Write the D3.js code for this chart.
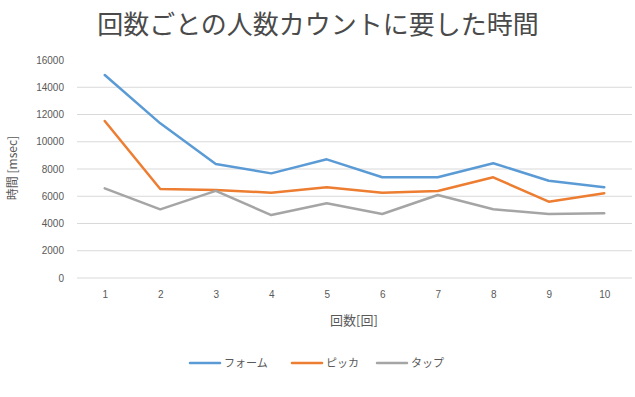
<!DOCTYPE html>
<html>
<head>
<meta charset="utf-8">
<script src="https://cdn.jsdelivr.net/npm/d3@7"></script>
<style>
  body { margin: 0; background: #fff; }
  text { font-family: "Noto Sans CJK JP", "Noto Sans", sans-serif; }
</style>
</head>
<body>
<div id="vis"></div>
<script>
// 回数ごとの人数カウントに要した時間 - line chart

var width = 635;
var height = 397;

var rounds = [1, 2, 3, 4, 5, 6, 7, 8, 9, 10];
var seriesNames = ["フォーム", "ピッカ", "タップ"];
var formValues = [14900, 11350, 8370, 7680, 8710, 7390, 7390, 8420, 7140, 6660];
var pickerValues = [11520, 6530, 6460, 6260, 6660, 6260, 6390, 7390, 5600, 6220];
var tapValues = [6580, 5040, 6390, 4620, 5480, 4700, 6090, 5040, 4700, 4750];
var yTicks = [0, 2000, 4000, 6000, 8000, 10000, 12000, 14000, 16000];
var colors = ["#5b9bd5", "#ed7d31", "#a5a5a5"];

var allSeries = [formValues, pickerValues, tapValues];

var canvas = d3.select("#vis")
        .append("svg")
        .attr("width", width)
        .attr("height", height)
        .style("background-color", "#fff");

var x = d3.scalePoint()
        .domain(rounds)
        .range([77, 632])
        .padding(0.5);

var y = d3.scaleLinear()
        .domain([0, 16000])
        .range([278, 60]);

// title
canvas.append("text")
        .attr("x", 318)
        .attr("y", 34)
        .attr("text-anchor", "middle")
        .attr("fill", "#4a4a4a")
        .style("font-size", "26px")
        .text("回数ごとの人数カウントに要した時間");

// gridlines
canvas.append("g")
    .selectAll("line")
    .data(yTicks.filter(d => d < 16000))
    .join("line")
        .attr("x1", 77)
        .attr("x2", 632)
        .attr("y1", d => y(d))
        .attr("y2", d => y(d))
        .attr("stroke", "#d9d9d9")
        .attr("stroke-width", 1);

// y axis labels
const yAxis = d3.axisLeft(y)
        .tickValues(yTicks)
        .tickFormat(d3.format("d"))
        .tickSize(0)
        .tickPadding(0);

var yg = canvas.append("g")
        .attr("transform", "translate(64,0)")
        .call(yAxis);
yg.select(".domain").remove();
yg.selectAll("text")
        .attr("fill", "#595959")
        .style("font-size", "10px")
        .style("font-family", "'Liberation Sans', sans-serif");

// x axis labels
const xAxis = d3.axisBottom(x)
        .tickSize(0)
        .tickPadding(0);

var xg = canvas.append("g")
        .attr("transform", "translate(0,291)")
        .call(xAxis);
xg.select(".domain").remove();
xg.selectAll("text")
        .attr("fill", "#595959")
        .style("font-size", "10px")
        .style("font-family", "'Liberation Sans', sans-serif");

// axis titles
canvas.append("text")
        .attr("x", 354)
        .attr("y", 325)
        .attr("text-anchor", "middle")
        .attr("fill", "#595959")
        .style("font-size", "13px")
        .text("回数[回]");

canvas.append("text")
        .attr("transform", "translate(17,168) rotate(-90)")
        .attr("text-anchor", "middle")
        .attr("fill", "#595959")
        .style("font-size", "12px")
        .text("時間 [msec]");

// lines
var line = d3.line()
        .x((d, i) => x(rounds[i]))
        .y(d => y(d));

canvas.append("g")
    .selectAll("path")
    .data(allSeries)
    .join("path")
        .attr("d", d => line(d))
        .attr("fill", "none")
        .attr("stroke", (d, i) => colors[i])
        .attr("stroke-width", 2.5)
        .attr("stroke-linejoin", "round")
        .attr("stroke-linecap", "round");

// legend
var legendX = [190, 292, 377];
var legend = canvas.append("g")
    .selectAll("g")
    .data(seriesNames)
    .join("g")
        .attr("transform", (d, i) => `translate(${legendX[i]},363)`);

legend.append("line")
        .attr("x1", 0)
        .attr("x2", 30)
        .attr("stroke", (d, i) => colors[i])
        .attr("stroke-width", 2.5)
        .attr("stroke-linecap", "round");

legend.append("text")
        .attr("x", 34)
        .attr("y", 4)
        .attr("fill", "#595959")
        .style("font-size", "11px")
        .text(d => d);
</script>
</body>
</html>
